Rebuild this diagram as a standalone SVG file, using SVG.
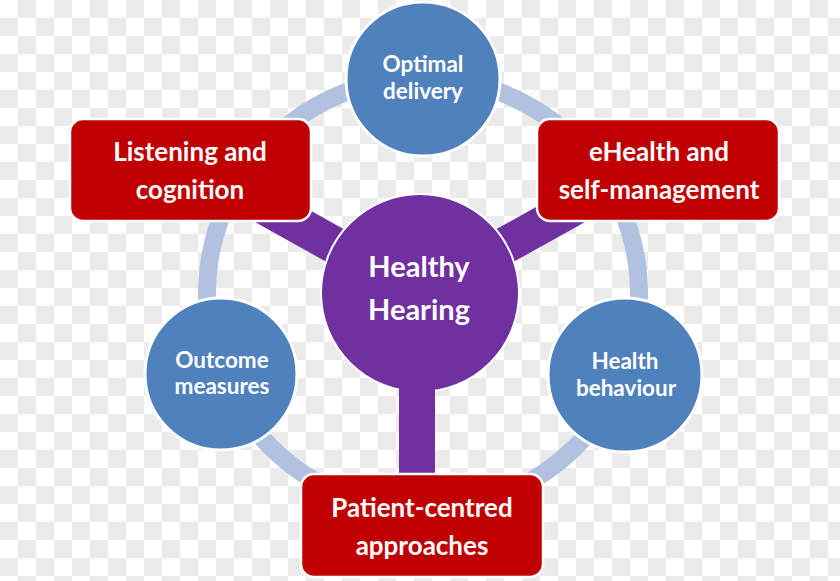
<svg xmlns="http://www.w3.org/2000/svg" width="840" height="581" viewBox="0 0 840 581">
  <defs>
    <pattern id="checker" x="0" y="0" width="36" height="36" patternUnits="userSpaceOnUse">
      <rect width="36" height="36" fill="#ffffff"/>
      <rect x="18" y="0" width="18" height="18" fill="#ebebeb"/>
      <rect x="0" y="18" width="18" height="18" fill="#ebebeb"/>
    </pattern>
    <style>
      .box { fill: #c00000; stroke: #ffffff; stroke-width: 2.5; }
      .blue { fill: #4f81bd; stroke: #ffffff; stroke-width: 3; }
      .purple { fill: #7030a0; }
      .arm { stroke: #7030a0; stroke-width: 37; stroke-linecap: butt; fill: none; }
      .ring { fill: none; stroke: #b0c2e0; stroke-width: 18; }
      text { font-family: Lato, "Open Sans", "Liberation Sans", sans-serif; font-weight: bold; fill: #ffffff; text-anchor: middle; }
      .tb { font-size: 26px; }
      .tc { font-size: 22.5px; }
      .th { font-size: 29px; }
    </style>
  </defs>
  <rect width="840" height="581" fill="url(#checker)"/>

  <g id="connectors">
    <circle class="ring" cx="423" cy="294" r="216"/>
    <line class="arm" x1="420" y1="293" x2="250" y2="198"/>
    <line class="arm" x1="420" y1="293" x2="590" y2="198"/>
    <rect class="purple" x="399" y="330" width="36" height="146"/>
  </g>

  <g id="healthy-hearing">
    <circle cx="420" cy="293" r="99" fill="#7030a0" stroke="#ffffff" stroke-width="2"/>
    <line class="arm" x1="420" y1="293" x2="360" y2="259.5"/>
    <line class="arm" x1="420" y1="293" x2="480" y2="259.5"/>
    <rect class="purple" x="399" y="293" width="36" height="100"/>
    <text class="th" x="419" y="277">Healthy</text>
    <text class="th" x="419" y="320">Hearing</text>
  </g>

  <g id="optimal-delivery">
    <circle class="blue" cx="423" cy="79" r="77"/>
    <text class="tc" x="423" y="72">Optimal</text>
    <text class="tc" x="423" y="99">delivery</text>
  </g>

  <g id="outcome-measures">
    <circle class="blue" cx="221" cy="374" r="76"/>
    <text class="tc" x="222" y="368">Outcome</text>
    <text class="tc" x="222" y="394">measures</text>
  </g>

  <g id="health-behaviour">
    <circle class="blue" cx="625" cy="375" r="77"/>
    <text class="tc" x="625" y="369">Health</text>
    <text class="tc" x="626" y="396">behaviour</text>
  </g>

  <g id="listening-cognition">
    <rect class="box" x="70" y="119" width="241" height="102" rx="13"/>
    <text class="tb" x="190" y="161">Listening and</text>
    <text class="tb" x="190" y="199">cognition</text>
  </g>

  <g id="ehealth-self-management">
    <rect class="box" x="537" y="119" width="242" height="102" rx="13"/>
    <text class="tb" x="659" y="161">eHealth and</text>
    <text class="tb" x="659" y="199">self-management</text>
  </g>

  <g id="patient-centred">
    <rect class="box" x="301" y="474" width="242" height="103" rx="13"/>
    <text class="tb" x="422" y="517">Patient-centred</text>
    <text class="tb" x="422" y="555">approaches</text>
  </g>
</svg>
